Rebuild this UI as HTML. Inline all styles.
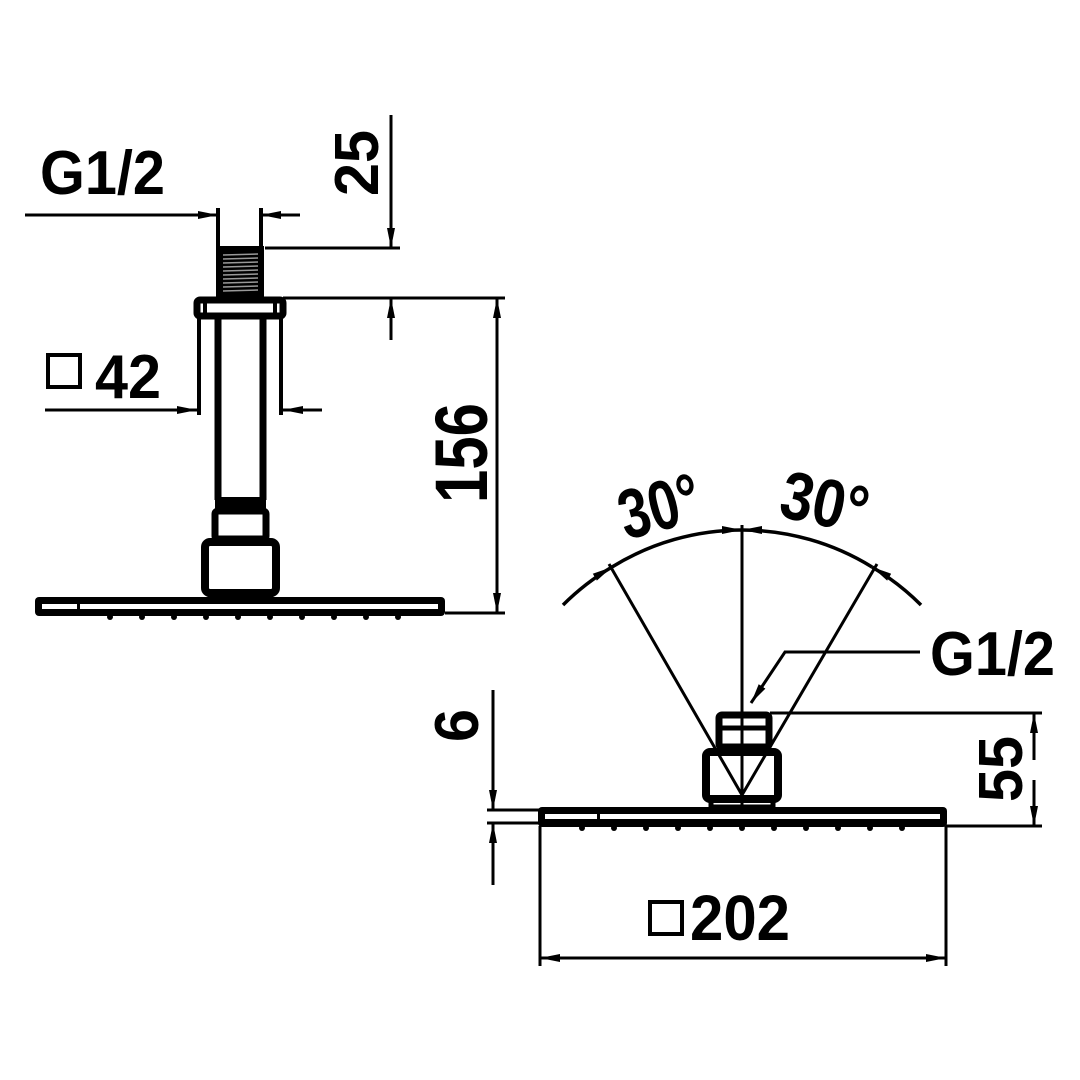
<!DOCTYPE html>
<html><head><meta charset="utf-8"><style>
html,body{margin:0;padding:0;background:#fff;}
svg{display:block}
text{font-family:"Liberation Sans Narrow","Liberation Sans",sans-serif;font-weight:bold;fill:#000}
</style></head><body>
<svg width="1080" height="1080" viewBox="0 0 1080 1080" xmlns="http://www.w3.org/2000/svg">
<defs>
<marker id="a" viewBox="0 0 20 10" refX="20" refY="5" markerWidth="20" markerHeight="10" markerUnits="userSpaceOnUse" orient="auto" preserveAspectRatio="none"><path d="M0,1 L20,5 L0,9 Z" fill="#000"/></marker>
</defs>
<g stroke="#000" fill="none">
<line x1="25" y1="215" x2="218" y2="215" stroke-width="3" marker-end="url(#a)"/>
<line x1="300" y1="215" x2="261" y2="215" stroke-width="3" marker-end="url(#a)"/>
<line x1="218" y1="208" x2="218" y2="248" stroke-width="4"/>
<line x1="261" y1="208" x2="261" y2="248" stroke-width="4"/>
<rect x="216" y="246" width="48" height="52" fill="#000" stroke="none"/>
<g stroke="#999" stroke-width="1.5">
<line x1="223" y1="255" x2="258" y2="254"/><line x1="223" y1="259" x2="258" y2="258"/><line x1="223" y1="263" x2="258" y2="262"/><line x1="223" y1="267" x2="258" y2="266"/><line x1="223" y1="271" x2="258" y2="270"/><line x1="223" y1="275" x2="258" y2="274"/><line x1="223" y1="279" x2="258" y2="278"/><line x1="223" y1="283" x2="258" y2="282"/><line x1="223" y1="287" x2="258" y2="286"/><line x1="223" y1="291" x2="258" y2="290"/>
</g>
<rect x="197" y="300" width="86" height="16" rx="3" stroke-width="7"/>
<line x1="205" y1="300" x2="205" y2="316" stroke-width="4"/>
<line x1="275" y1="300" x2="275" y2="316" stroke-width="4"/>
<line x1="199" y1="316" x2="199" y2="415" stroke-width="4"/>
<line x1="281" y1="316" x2="281" y2="415" stroke-width="4"/>
<line x1="218" y1="316" x2="218" y2="500" stroke-width="7"/>
<line x1="263" y1="316" x2="263" y2="500" stroke-width="7"/>
<rect x="215" y="497" width="51" height="14" fill="#000" stroke="none"/>
<rect x="215" y="511" width="51" height="28" rx="3" stroke-width="7"/>
<rect x="205" y="542" width="71" height="51" rx="5" stroke-width="8"/>
<rect x="210" y="593" width="61" height="6" stroke-width="5"/>
<rect x="35" y="597" width="410" height="19" rx="4" fill="#000" stroke="none"/>
<rect x="42" y="604" width="35" height="5" fill="#fff" stroke="none"/>
<rect x="80" y="604" width="358" height="5" fill="#fff" stroke="none"/>
<line x1="45" y1="410" x2="197" y2="410" stroke-width="3" marker-end="url(#a)"/>
<line x1="322" y1="410" x2="283" y2="410" stroke-width="3" marker-end="url(#a)"/>
<line x1="265" y1="248" x2="400" y2="248" stroke-width="3"/>
<line x1="283" y1="298" x2="505" y2="298" stroke-width="3"/>
<line x1="445" y1="613" x2="505" y2="613" stroke-width="3"/>
<line x1="391" y1="115" x2="391" y2="248" stroke-width="3" marker-end="url(#a)"/>
<line x1="391" y1="340" x2="391" y2="298" stroke-width="3" marker-end="url(#a)"/>
<line x1="497" y1="340" x2="497" y2="298" stroke-width="3" marker-end="url(#a)"/>
<line x1="497" y1="560" x2="497" y2="613" stroke-width="3" marker-end="url(#a)"/>
<line x1="497" y1="330" x2="497" y2="570" stroke-width="3"/>

<line x1="742" y1="525" x2="742" y2="812" stroke-width="3"/>
<line x1="742" y1="795" x2="609" y2="564" stroke-width="3"/>
<line x1="742" y1="795" x2="877" y2="564" stroke-width="3"/>
<path d="M612,567 A248,248 0 0 1 742,530" stroke-width="3.5" marker-end="url(#a)"/>
<path d="M872,567 A248,248 0 0 0 742,530" stroke-width="3.5" marker-end="url(#a)"/>
<path d="M563,605 A248,248 0 0 1 612,567" stroke-width="3.5" marker-end="url(#a)"/>
<path d="M921,605 A248,248 0 0 0 872,567" stroke-width="3.5" marker-end="url(#a)"/>
<rect x="719" y="715" width="50" height="32" rx="3" stroke-width="7"/>
<line x1="719" y1="728" x2="769" y2="728" stroke-width="5"/>
<rect x="706" y="752" width="72" height="47" rx="4" stroke-width="8"/>
<rect x="711" y="799" width="62" height="8" stroke-width="5"/>
<polyline points="920,652 785,652 751,703" stroke-width="3" marker-end="url(#a)"/>
<rect x="538" y="807" width="409" height="20" rx="4" fill="#000" stroke="none"/>
<rect x="545" y="814" width="52" height="5" fill="#fff" stroke="none"/>
<rect x="600" y="814" width="340" height="5" fill="#fff" stroke="none"/>
<line x1="770" y1="713" x2="1042" y2="713" stroke-width="3"/>
<line x1="946" y1="826" x2="1042" y2="826" stroke-width="3"/>
<line x1="1034" y1="760" x2="1034" y2="713" stroke-width="3" marker-end="url(#a)"/>
<line x1="1034" y1="780" x2="1034" y2="826" stroke-width="3" marker-end="url(#a)"/>
<line x1="487" y1="810" x2="540" y2="810" stroke-width="3"/>
<line x1="487" y1="823" x2="540" y2="823" stroke-width="3"/>
<line x1="493" y1="690" x2="493" y2="810" stroke-width="3" marker-end="url(#a)"/>
<line x1="493" y1="885" x2="493" y2="823" stroke-width="3" marker-end="url(#a)"/>
<line x1="540" y1="826" x2="540" y2="966" stroke-width="3"/>
<line x1="946" y1="826" x2="946" y2="966" stroke-width="3"/>
<line x1="745" y1="958" x2="540" y2="958" stroke-width="3" marker-end="url(#a)"/>
<line x1="740" y1="958" x2="946" y2="958" stroke-width="3" marker-end="url(#a)"/>
<rect x="48" y="355" width="32" height="32" stroke-width="4"/>
<rect x="650" y="902" width="32" height="32" stroke-width="4"/>
</g>
<g fill="#000">
<circle cx="110" cy="617" r="3"/><circle cx="142" cy="617" r="3"/><circle cx="174" cy="617" r="3"/><circle cx="206" cy="617" r="3"/><circle cx="238" cy="617" r="3"/><circle cx="270" cy="617" r="3"/><circle cx="302" cy="617" r="3"/><circle cx="334" cy="617" r="3"/><circle cx="366" cy="617" r="3"/><circle cx="398" cy="617" r="3"/>
<circle cx="582" cy="828" r="3"/><circle cx="614" cy="828" r="3"/><circle cx="646" cy="828" r="3"/><circle cx="678" cy="828" r="3"/><circle cx="710" cy="828" r="3"/><circle cx="742" cy="828" r="3"/><circle cx="774" cy="828" r="3"/><circle cx="806" cy="828" r="3"/><circle cx="838" cy="828" r="3"/><circle cx="870" cy="828" r="3"/><circle cx="902" cy="828" r="3"/>
</g>
<text x="40" y="194" font-size="62" textLength="125" lengthAdjust="spacingAndGlyphs">G1/2</text>
<text x="95" y="398" font-size="62" textLength="66" lengthAdjust="spacingAndGlyphs">42</text>
<text transform="translate(378,196) rotate(-90)" font-size="62" textLength="66" lengthAdjust="spacingAndGlyphs">25</text>
<text transform="translate(487,503) rotate(-90)" font-size="74" textLength="100" lengthAdjust="spacingAndGlyphs">156</text>
<text transform="translate(626,540) rotate(-15)" font-size="70" textLength="82" lengthAdjust="spacingAndGlyphs">30°</text>
<text transform="translate(777,516) rotate(12)" font-size="68" textLength="88" lengthAdjust="spacingAndGlyphs">30°</text>
<text x="930" y="675" font-size="62" textLength="125" lengthAdjust="spacingAndGlyphs">G1/2</text>
<text transform="translate(1022,802) rotate(-90)" font-size="62" textLength="66" lengthAdjust="spacingAndGlyphs">55</text>
<text transform="translate(478,742) rotate(-90)" font-size="62" textLength="33" lengthAdjust="spacingAndGlyphs">6</text>
<text x="690" y="940" font-size="64" textLength="100" lengthAdjust="spacingAndGlyphs">202</text>
</svg>
</body></html>
